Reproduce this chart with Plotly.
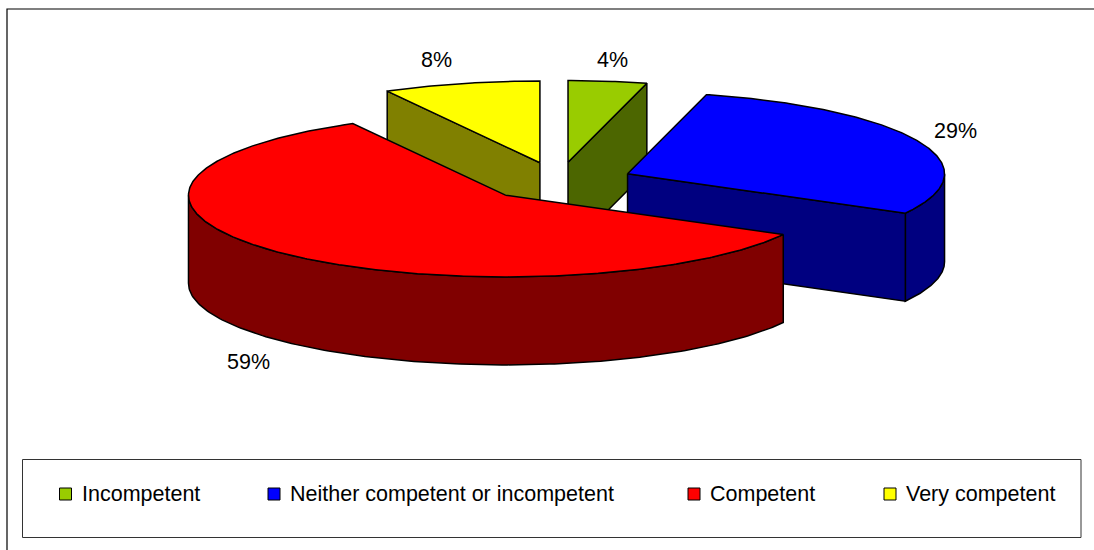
import numpy as np
import plotly.graph_objects as go

# ---- data -------------------------------------------------------------
categories = ["Incompetent", "Neither competent or incompetent", "Competent", "Very competent"]
shares = [4, 29, 59, 8]
pct_labels = ["4%", "29%", "59%", "8%"]

# ---- styling ----------------------------------------------------------
top_colors = ["#99CC00", "#0000FF", "#FF0000", "#FFFF00"]
side_colors = ["#4C6600", "#000080", "#800000", "#808000"]
FONT = "Liberation Sans, Arial, sans-serif"
FONT_SIZE = 21.5

W, H = 1094, 550
# pie geometry (radius = 1 unit); screen centre and scale in pixels
CX_PX, CY_PX, SCALE = 558.6, 181.5, 317.0
TILT = 81.7 / SCALE      # vertical squash of the disc
DEPTH = 88.0 / SCALE     # thickness of the disc
EXPLODE = 0.237          # radial offset of every slice

# label anchor points (pixels) and legend layout (pixels)
label_px = [(612, 60), (955, 131), (248, 362), (436, 60)]
legend_box = (22.5, 459.5, 1081, 537.5)
legend_sq_x = [59.5, 268, 688, 884]
legend_txt_x = [80, 288, 708, 904]
legend_y = 494


def proj(u, v, top=True):
    """Parallel projection of a disc point onto the drawing plane."""
    return u, v * TILT - (0 if top else DEPTH)


def poly_trace(xs, ys, fill):
    return go.Scatter(
        x=list(xs) + [xs[0]], y=list(ys) + [ys[0]],
        mode="lines", fill="toself", fillcolor=fill,
        line=dict(color="black", width=1.5),
        hoverinfo="skip", showlegend=False,
    )


total = float(sum(shares))
starts = np.concatenate([[0], np.cumsum(shares)[:-1]]) / total * 360.0
ends = np.cumsum(shares) / total * 360.0
mids = (starts + ends) / 2.0

# back-to-front order of the slices
order = sorted(range(len(shares)), key=lambda i: -np.cos(np.radians(mids[i])))

traces = []
for i in order:
    a0, a1, m = starts[i], ends[i], mids[i]
    ox = EXPLODE * np.sin(np.radians(m))
    oy = EXPLODE * np.cos(np.radians(m))

    # curved outer wall facing the viewer (90..270 degrees)
    c0, c1 = max(a0, 90.0), min(a1, 270.0)
    if c1 > c0:
        t = np.radians(np.linspace(c0, c1, 160))
        u = ox + np.sin(t)
        v = oy + np.cos(t)
        xt, yt = proj(u, v, True)
        xb, yb = proj(u, v, False)
        xs = np.concatenate([xt, xb[::-1]])
        ys = np.concatenate([yt, yb[::-1]])
        traces.append(poly_trace(xs, ys, side_colors[i]))

    # flat radial walls
    for ang, sign in ((a0, -1), (a1, 1)):
        s = np.sin(np.radians(ang))
        if sign * s > 1e-6:
            ou = ox + np.sin(np.radians(ang))
            ov = oy + np.cos(np.radians(ang))
            p1 = proj(ox, oy, True)
            p2 = proj(ou, ov, True)
            p3 = proj(ou, ov, False)
            p4 = proj(ox, oy, False)
            traces.append(poly_trace([p1[0], p2[0], p3[0], p4[0]],
                                     [p1[1], p2[1], p3[1], p4[1]], side_colors[i]))

    # top face
    t = np.radians(np.linspace(a0, a1, max(int((a1 - a0) * 2), 12)))
    u = np.concatenate([[ox], ox + np.sin(t)])
    v = np.concatenate([[oy], oy + np.cos(t)])
    xs, ys = proj(u, v, True)
    traces.append(poly_trace(xs, ys, top_colors[i]))

fig = go.Figure(traces)

# percentage labels
annotations = []
for txt, (px, py) in zip(pct_labels, label_px):
    annotations.append(dict(
        x=px / W, y=1 - py / H, xref="paper", yref="paper",
        text=txt, showarrow=False, xanchor="center", yanchor="middle",
        font=dict(family=FONT, size=FONT_SIZE, color="black"),
    ))

shapes = [
    # chart frame (runs off the right and bottom edges)
    dict(type="rect", xref="paper", yref="paper",
         x0=7 / W, x1=1.02, y0=-0.02, y1=1 - 9 / H,
         line=dict(color="black", width=1.2), layer="below"),
    # legend box
    dict(type="rect", xref="paper", yref="paper",
         x0=legend_box[0] / W, x1=legend_box[2] / W,
         y0=1 - legend_box[3] / H, y1=1 - legend_box[1] / H,
         line=dict(color="#333333", width=1), fillcolor="white", layer="below"),
]

# legend entries
SQ = 12
for name, col, sx, tx in zip(categories, top_colors, legend_sq_x, legend_txt_x):
    shapes.append(dict(
        type="rect", xref="paper", yref="paper",
        x0=sx / W, x1=(sx + SQ) / W,
        y0=1 - (legend_y + SQ / 2) / H, y1=1 - (legend_y - SQ / 2) / H,
        fillcolor=col, line=dict(color="black", width=1),
    ))
    annotations.append(dict(
        x=tx / W, y=1 - legend_y / H, xref="paper", yref="paper",
        text=name, showarrow=False, xanchor="left", yanchor="middle",
        font=dict(family=FONT, size=FONT_SIZE, color="black"),
    ))

fig.update_layout(
    width=W, height=H,
    margin=dict(l=0, r=0, t=0, b=0),
    paper_bgcolor="white", plot_bgcolor="white",
    xaxis=dict(range=[-CX_PX / SCALE, (W - CX_PX) / SCALE], visible=False, fixedrange=True),
    yaxis=dict(range=[(CY_PX - H) / SCALE, CY_PX / SCALE], visible=False, fixedrange=True),
    shapes=shapes, annotations=annotations,
    showlegend=False,
)

fig.write_html("out.html")
